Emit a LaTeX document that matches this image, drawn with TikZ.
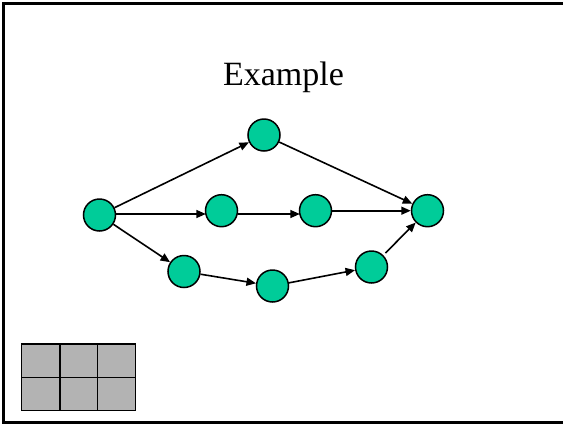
\documentclass[tikz,border=0pt]{standalone}
\usepackage{fontspec}
\setmainfont{Liberation Serif}
\usetikzlibrary{arrows.meta}
\definecolor{nodegreen}{HTML}{00CC99}
\definecolor{cellgray}{HTML}{B3B3B3}
\begin{document}
\begin{tikzpicture}[x=1pt,y=-1pt,
  ev/.style={circle,draw=black,line width=1.5pt,fill=nodegreen,minimum size=32pt,inner sep=0pt},
  arr/.style={line width=1.6pt,-{Triangle[length=9.5pt,width=8pt]}},
  cell/.style={draw=black,line width=1.1pt,fill=cellgray}]
\useasboundingbox (0,0) rectangle (563,424);
\draw[line width=2.4pt] (3.5,3.5) rectangle (570,422.3);
\node[font=\fontsize{34}{38}\selectfont,anchor=base] (title) at (283.5,85) {Example};
\node[ev] (a) at (99.5,215) {};
\node[ev] (b) at (264,135) {};
\node[ev] (c) at (221.5,210.7) {};
\node[ev] (d) at (315.5,210.7) {};
\node[ev] (e) at (427.5,210.7) {};
\node[ev] (f) at (184,271.5) {};
\node[ev] (g) at (272.5,286) {};
\node[ev] (h) at (371.5,267) {};
\coordinate (ce) at (205.8,214);
\coordinate (de) at (299.8,214);
\draw[arr] (a) -- (b);
\draw[arr] (a.east |- ce) -- (ce);
\draw[arr] (a) -- (f);
\draw[arr] (b) -- (e);
\draw[arr] (c.east |- de) -- (de);
\draw[arr] (d) -- (e);
\draw[arr] (f) -- (g);
\draw[arr] (g) -- (h);
\draw[arr,shorten <=3pt] (h) -- (e);
\foreach \x/\xx in {21.7/60,60/97.7,97.7/135.3}{
  \foreach \y/\yy in {344/377.5,377.5/410.7}{
    \draw[cell] (\x,\y) rectangle (\xx,\yy);
  }
}
\end{tikzpicture}
\end{document}
